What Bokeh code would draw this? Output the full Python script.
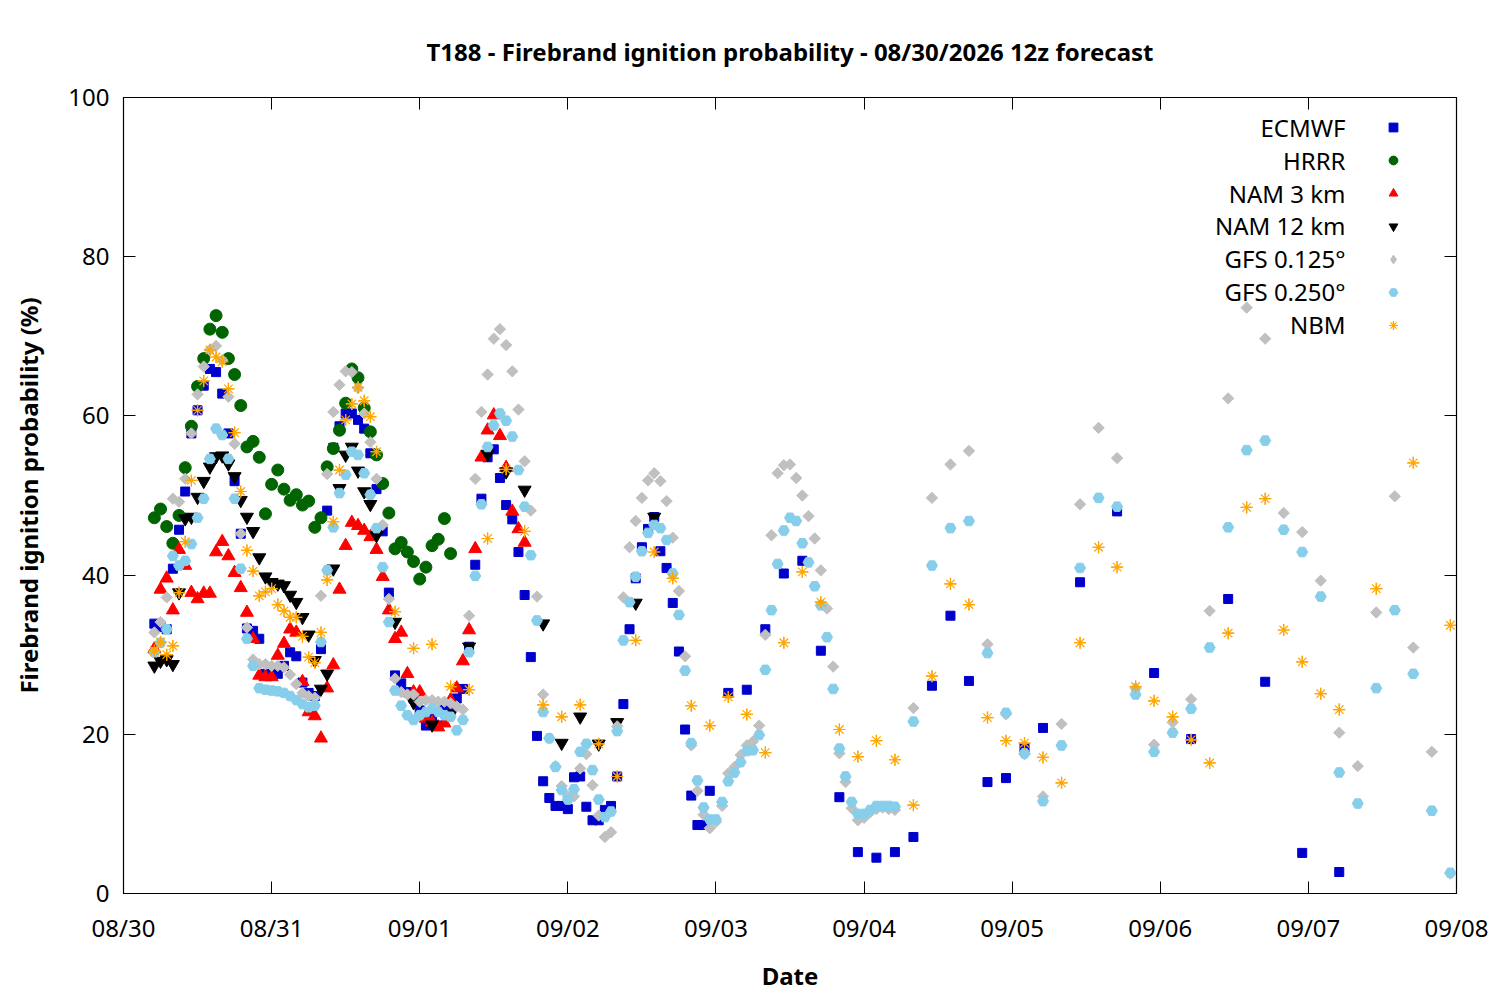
import math
from datetime import datetime, timedelta

from bokeh.embed import file_html
from bokeh.models import (CustomJSTickFormatter, DatetimeAxis, DatetimeTickFormatter, FixedTicker,
                          Label, Legend, LegendItem, LinearAxis, Range1d)
from bokeh.plotting import figure
from bokeh.resources import INLINE

START = datetime(2026, 8, 30)
FONT = "Noto Sans"
FS = "24px"

# forecast hours counted from 08/30 00:00 local
ecmwf_hours = list(range(5, 96)) + list(range(98, 150, 3)) + list(range(155, 198, 6))
ecmwf_vals = [
    33.9, 33.5, 33.2, 40.8, 45.7, 50.5, 57.8, 60.7, 63.8, 65.9,
    65.5, 62.8, 57.8, 51.8, 45.2, 33.3, 33.0, 32.0, 27.6, 27.5,
    27.6, 28.6, 30.3, 29.8, 26.5, 25.2, 24.8, 30.7, 48.1, 56.0,
    58.7, 60.3, 60.3, 59.5, 58.4, 55.3, 50.8, 45.5, 37.8, 27.4,
    26.4, 25.3, 24.5, 23.0, 21.1, 22.0, 21.1, 23.5, 23.5, 24.5,
    25.7, 31.0, 41.3, 49.6, 54.8, 55.8, 52.2, 48.8, 47.0, 42.9,
    37.5, 29.7, 19.8, 14.1, 12.0, 11.0, 11.0, 10.6, 14.6, 14.7,
    10.9, 9.2, 9.2, 10.5, 11.0, 14.7, 23.8, 33.2, 39.6, 43.5,
    45.8, 47.3, 43.0, 40.9, 36.5, 30.4, 20.6, 12.3, 8.6, 8.6,
    12.9,
    25.2, 25.6, 33.2, 40.2, 41.8, 30.5, 12.1, 5.2, 4.5, 5.2,
    7.1, 26.1, 34.9, 26.7, 14.0, 14.5, 18.3, 20.8,
    39.1, 48.0, 27.7, 19.4, 37.0, 26.6, 5.1, 2.7,
]

hrrr_hours = list(range(5, 54))
hrrr_vals = [
    47.2, 48.3, 46.1, 44.0, 47.5, 53.5, 58.7, 63.7, 67.2, 70.9,
    72.6, 70.5, 67.2, 65.2, 61.3, 56.1, 56.8, 54.8, 47.7, 51.4,
    53.2, 50.8, 49.4, 50.1, 48.8, 49.3, 46.0, 47.2, 53.6, 55.9,
    58.2, 61.6, 65.9, 64.8, 61.0, 58.0, 55.1, 51.5, 47.8, 43.3,
    44.1, 42.9, 41.7, 39.5, 41.0, 43.7, 44.5, 47.1, 42.7,
]

nam3_hours = list(range(5, 66))
nam3_vals = [
    30.7, 38.2, 39.6, 35.6, 43.2, 41.2, 37.8, 37.0, 37.7, 37.7,
    42.9, 44.2, 42.4, 40.3, 38.4, 35.3, 32.0, 27.4, 27.2, 27.2,
    29.9, 31.4, 33.2, 32.8, 26.6, 22.8, 22.3, 19.5, 25.8, 28.7,
    38.2, 43.7, 46.6, 46.2, 45.6, 44.8, 43.2, 39.8, 35.6, 32.0,
    32.8, 27.6, 25.3, 25.3, 22.0, 21.5, 20.9, 21.4, 24.3, 25.8,
    29.2, 33.1, 43.3, 54.8, 58.2, 60.1, 57.5, 53.5, 48.0, 45.8,
    44.1,
]

nam12_hours = list(range(5, 42)) + list(range(44, 87, 3))
nam12_vals = [
    28.6, 29.2, 29.4, 28.8, 37.8, 47.1, 47.3, 49.8, 51.8, 53.6,
    54.9, 55.0, 54.0, 52.4, 49.4, 47.3, 45.5, 42.2, 39.8, 39.1,
    38.9, 38.7, 37.5, 36.6, 34.7, 32.5, 29.3, 25.7, 27.6, 40.8,
    50.9, 55.1, 56.1, 53.1, 50.5, 48.9, 45.0,
    34.1, 24.0, 21.2, 22.5, 31.0, 55.2, 53.0, 50.7, 33.9, 18.9,
    22.2, 18.8, 21.5, 36.5, 47.3,
]

gfs125_hours = list(range(5, 126)) + list(range(128, 216, 3))
gfs125_vals = [
    32.8, 34.1, 37.2, 49.6, 49.2, 52.1, 57.8, 62.7, 66.2, 68.3,
    68.8, 67.0, 62.4, 56.5, 45.2, 33.4, 29.4, 28.8, 28.8, 28.6,
    28.6, 28.4, 27.5, 26.3, 25.2, 24.8, 24.6, 37.4, 52.7, 60.5,
    63.9, 65.6, 65.5, 63.5, 60.3, 56.7, 52.1, 46.3, 37.0, 27.0,
    25.3, 25.0, 25.0, 24.1, 24.3, 24.3, 24.1, 24.1, 23.9, 23.5,
    23.1, 34.9, 52.1, 60.5, 65.2, 69.7, 70.9, 68.9, 65.6, 60.8,
    54.3, 48.1, 37.3, 25.0, 19.5, 16.0, 13.5, 12.2, 12.2, 15.7,
    17.5, 13.6, 9.8, 7.1, 7.7, 21.0, 37.2, 43.5, 46.8, 49.7,
    51.9, 52.8, 51.8, 49.3, 44.7, 38.0, 29.8, 18.6, 12.9, 9.9,
    8.2, 9.0, 11.0, 15.1, 15.9, 17.4, 18.6, 19.1, 21.1, 32.5,
    45.0, 52.8, 53.8, 53.9, 52.2, 50.0, 47.4, 44.6, 40.6, 35.8,
    28.5, 17.6, 14.0, 10.7, 9.2, 9.5, 10.2, 10.6, 10.8, 10.6,
    10.5,
    23.3, 49.7, 53.9, 55.6, 31.3, 22.5, 17.5, 12.2, 21.3, 48.9,
    58.5, 54.7, 25.8, 18.7, 21.5, 24.4, 35.5, 62.2, 73.6, 69.7,
    47.8, 45.4, 39.3, 20.2, 16.0, 35.3, 49.9, 30.9, 17.8, 2.5,
]

gfs250_hours = list(range(5, 126)) + list(range(128, 216, 3))
gfs250_vals = [
    30.3, 31.5, 33.2, 42.4, 41.2, 41.8, 43.9, 47.2, 49.6, 54.6,
    58.4, 57.6, 54.6, 49.6, 40.8, 32.0, 28.6, 25.8, 25.6, 25.5,
    25.4, 25.2, 24.8, 24.3, 23.8, 23.4, 23.6, 31.6, 40.6, 46.0,
    50.3, 52.6, 55.5, 55.1, 52.8, 50.1, 45.9, 41.0, 34.1, 25.5,
    23.6, 22.4, 21.8, 22.4, 22.8, 23.2, 22.8, 22.4, 22.2, 20.5,
    21.8, 30.3, 39.9, 48.9, 56.1, 58.8, 60.3, 59.4, 57.4, 53.2,
    48.6, 42.5, 34.3, 22.8, 19.5, 15.9, 13.0, 11.8, 13.1, 17.8,
    18.8, 15.5, 11.8, 9.6, 10.3, 20.4, 31.8, 36.6, 39.8, 43.0,
    45.3, 46.3, 45.9, 44.4, 40.2, 35.0, 28.0, 18.9, 14.2, 10.8,
    9.3, 9.3, 11.5, 14.1, 15.2, 16.5, 17.9, 18.0, 19.9, 28.1,
    35.6, 41.4, 45.6, 47.2, 46.8, 44.0, 41.6, 38.6, 36.2, 32.2,
    25.7, 18.2, 14.7, 11.5, 10.0, 10.0, 10.5, 11.0, 11.0, 11.0,
    10.9,
    21.6, 41.2, 45.9, 46.8, 30.2, 22.7, 17.6, 11.6, 18.6, 40.9,
    49.7, 48.6, 25.0, 17.8, 20.2, 23.2, 30.9, 46.0, 55.7, 56.9,
    45.7, 42.9, 37.3, 15.2, 11.3, 25.8, 35.6, 27.6, 10.4, 2.6,
]

nbm_hours = list(range(5, 42)) + list(range(44, 198, 3)) + [203, 209, 215]
nbm_vals = [
    30.5, 31.6, 30.0, 31.1, 37.8, 44.2, 51.9, 60.7, 64.4, 68.3,
    67.4, 66.8, 63.4, 57.9, 50.5, 43.1, 40.5, 37.4, 37.9, 38.3,
    36.3, 35.5, 34.7, 34.7, 32.3, 29.7, 29.0, 32.8, 39.4, 46.7,
    53.2, 59.5, 61.5, 63.6, 61.9, 59.9, 55.5,
    35.4, 30.8, 31.3, 26.0, 25.6, 44.6, 53.3, 45.5, 23.7, 22.2,
    23.7, 18.8, 14.7, 31.8, 42.9, 39.6, 23.6, 21.1, 24.7, 22.5,
    17.7, 31.5, 40.4, 36.6, 20.6, 17.2, 19.2, 16.8, 11.1, 27.3,
    38.9, 36.3, 22.1, 19.2, 18.9, 17.1, 13.9, 31.5, 43.5, 41.0,
    26.0, 24.2, 22.2, 19.3, 16.4, 32.7, 48.5, 49.6, 33.1, 29.1,
    25.1, 23.1,
    38.3, 54.1, 33.7,
]

names = ["ECMWF", "HRRR", "NAM 3 km", "NAM 12 km", "GFS 0.125°", "GFS 0.250°", "NBM"]
y_ticks = [0, 20, 40, 60, 80, 100]


def times(hours):
    return [START + timedelta(hours=h) for h in hours]


day_ticks = [(START + timedelta(days=d) - datetime(1970, 1, 1)).total_seconds() * 1000
             for d in range(10)]

p = figure(x_axis_type="datetime",
           x_range=Range1d(START, START + timedelta(days=9)), y_range=Range1d(0, 100),
           frame_width=1333, frame_height=796,
           min_border_left=123, min_border_right=35, min_border_top=97, min_border_bottom=98,
           output_backend="svg", toolbar_location=None,
           title="T188 - Firebrand ignition probability - 08/30/2026 12z forecast")

p.title.align = "center"
p.title.text_font = FONT
p.title.text_font_size = FS
p.title.text_font_style = "bold"
p.title.text_color = "black"
p.title.standoff = 60

p.grid.grid_line_color = None
p.outline_line_color = "black"
p.outline_line_width = 1.2

p.xaxis.ticker = FixedTicker(ticks=day_ticks)
p.xaxis.formatter = DatetimeTickFormatter(days="%m/%d", months="%m/%d", hours="%m/%d",
                                          hourmin="%m/%d")
p.yaxis.ticker = FixedTicker(ticks=y_ticks)
p.xaxis.axis_label = "Date"
p.yaxis.axis_label = "Firebrand ignition probability (%)"
p.xaxis.major_label_standoff = 17
p.yaxis.major_label_standoff = 14
p.xaxis.axis_label_standoff = 12
p.yaxis.axis_label_standoff = 20

blank = CustomJSTickFormatter(code="return ''")
p.add_layout(LinearAxis(ticker=FixedTicker(ticks=y_ticks), formatter=blank), "right")
p.add_layout(DatetimeAxis(ticker=FixedTicker(ticks=day_ticks), formatter=blank), "above")

for ax in p.axis:
    ax.major_tick_in = 12
    ax.major_tick_out = 0
    ax.minor_tick_in = 0
    ax.minor_tick_out = 0
    ax.axis_line_color = "black"
    ax.major_tick_line_color = "black"
    ax.major_label_text_font = FONT
    ax.major_label_text_font_size = FS
    ax.major_label_text_color = "black"
    ax.axis_label_text_font = FONT
    ax.axis_label_text_font_size = FS
    ax.axis_label_text_font_style = "bold"
    ax.axis_label_text_color = "black"

r_ec = p.scatter(times(ecmwf_hours), ecmwf_vals, marker="square", size=9, color="#0000cc")
r_hr = p.scatter(times(hrrr_hours), hrrr_vals, marker="circle", size=12, color="#006400")
r_n3 = p.scatter(times(nam3_hours), nam3_vals, marker="triangle", size=13, color="#ff0000")
r_n12 = p.scatter(times(nam12_hours), nam12_vals, marker="inverted_triangle", size=13,
                  color="black")
r_g1 = p.scatter(times(gfs125_hours), gfs125_vals, marker="square", angle=math.pi / 4,
                 size=8, color="#c0c0c0")
r_g2 = p.scatter(times(gfs250_hours), gfs250_vals, marker="hex", size=11, color="#87ceeb")
r_nb1 = p.scatter(times(nbm_hours), nbm_vals, marker="asterisk", size=12, line_width=1.2,
                  color="#ffa500")
r_nb2 = p.scatter(times(nbm_hours), nbm_vals, marker="cross", size=12, line_width=1.2,
                  color="#ffa500")
# the key draws markers unrotated, so the GFS 0.125 key gets a diamond proxy (never drawn)
r_g1_key = p.scatter(x=[START], y=[float("nan")], marker="diamond", size=11, color="#c0c0c0")

renderers = [[r_ec], [r_hr], [r_n3], [r_n12], [r_g1_key], [r_g2], [r_nb1, r_nb2]]
legend = Legend(items=[LegendItem(label=" ", renderers=r) for r in renderers],
                location="top_right", glyph_height=22, glyph_width=22, spacing=11,
                padding=0, margin=19, label_standoff=0, label_width=33,
                label_text_font_size="1px", background_fill_alpha=0, border_line_color=None)
p.add_layout(legend)

for i, name in enumerate(names):
    p.add_layout(Label(x=1222, y=766.3 - 32.9 * i, x_units="screen", y_units="screen",
                       text=name, text_align="right", text_baseline="middle",
                       text_font=FONT, text_font_size=FS, text_color="black"))

open("out.html", "w").write(file_html(p, INLINE))
